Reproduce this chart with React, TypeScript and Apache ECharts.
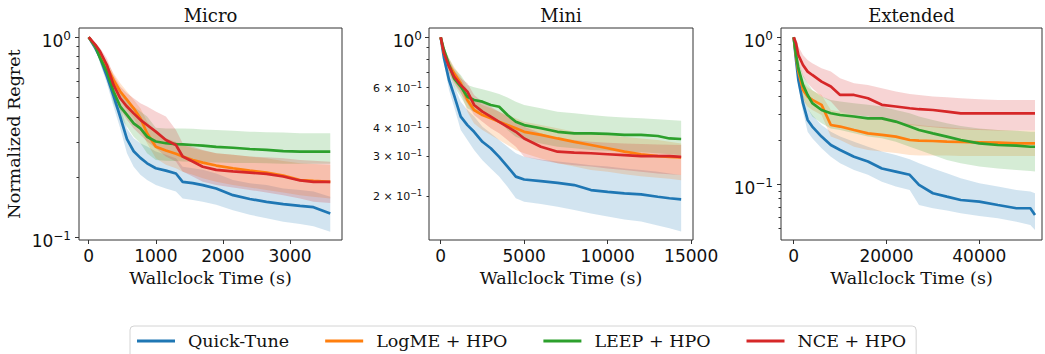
import React, { useEffect, useRef } from 'react';
import * as echarts from 'echarts';

// ---------- data ----------
const methods = ['Quick-Tune', 'LogME + HPO', 'LEEP + HPO', 'NCE + HPO'];
const panelTitles = ['Micro', 'Mini', 'Extended'];
const xAxisName = 'Wallclock Time (s)';
const yAxisName = 'Normalized Regret';

const microXTicks = [0, 1000, 2000, 3000];
const miniXTicks = [0, 5000, 10000, 15000];
const extXTicks = [0, 20000, 40000];

const microYMajor = [1, 0.1];
const microYLabels = [1, 0.1];
const microYMinor = [0.2, 0.3, 0.4, 0.5, 0.6, 0.7, 0.8, 0.9];
const miniYMajor = [1];
const miniYLabels = [1, 0.6, 0.4, 0.3, 0.2];
const miniYMinor = [0.2, 0.3, 0.4, 0.5, 0.6, 0.7, 0.8, 0.9];
const extYMajor = [1, 0.1];
const extYLabels = [1, 0.1];
const extYMinor = [0.05, 0.06, 0.07, 0.08, 0.09, 0.2, 0.3, 0.4, 0.5, 0.6, 0.7, 0.8, 0.9];

// Micro
const microTime = [0, 100, 170, 270, 370, 470, 570, 670, 770, 870, 1000, 1150, 1300, 1400, 1550, 1700, 1900, 2150, 2400, 2650, 2900, 3150, 3350, 3600];
const microQuickTune = [1.0, 0.88, 0.79, 0.64, 0.51, 0.40, 0.31, 0.27, 0.25, 0.235, 0.222, 0.216, 0.209, 0.19, 0.187, 0.183, 0.176, 0.163, 0.156, 0.151, 0.147, 0.144, 0.142, 0.132];
const microQuickTuneHi = [1.0, 0.898, 0.816, 0.674, 0.556, 0.451, 0.351, 0.313, 0.296, 0.285, 0.269, 0.259, 0.249, 0.226, 0.222, 0.218, 0.209, 0.194, 0.187, 0.183, 0.176, 0.173, 0.170, 0.160];
const microQuickTuneLo = [1.0, 0.865, 0.742, 0.589, 0.451, 0.351, 0.264, 0.226, 0.206, 0.194, 0.183, 0.176, 0.170, 0.157, 0.154, 0.151, 0.146, 0.137, 0.130, 0.125, 0.120, 0.117, 0.114, 0.107];
const microLogME = [1.0, 0.898, 0.816, 0.714, 0.612, 0.536, 0.487, 0.442, 0.394, 0.332, 0.284, 0.272, 0.262, 0.254, 0.244, 0.237, 0.229, 0.222, 0.216, 0.211, 0.204, 0.194, 0.192, 0.190];
const microLogMEHi = [1.0, 0.923, 0.848, 0.756, 0.661, 0.589, 0.536, 0.487, 0.442, 0.380, 0.332, 0.313, 0.301, 0.290, 0.279, 0.272, 0.264, 0.259, 0.254, 0.249, 0.241, 0.235, 0.233, 0.231];
const microLogMELo = [1.0, 0.871, 0.777, 0.674, 0.567, 0.487, 0.434, 0.394, 0.345, 0.296, 0.249, 0.231, 0.222, 0.213, 0.206, 0.198, 0.190, 0.183, 0.178, 0.173, 0.168, 0.163, 0.160, 0.157];
const microLEEP = [1.0, 0.898, 0.786, 0.674, 0.536, 0.451, 0.410, 0.372, 0.351, 0.319, 0.302, 0.296, 0.293, 0.292, 0.290, 0.288, 0.284, 0.281, 0.277, 0.274, 0.270, 0.269, 0.269, 0.269];
const microLEEPHi = [1.0, 0.923, 0.832, 0.727, 0.600, 0.536, 0.487, 0.451, 0.426, 0.402, 0.354, 0.351, 0.351, 0.351, 0.349, 0.346, 0.345, 0.342, 0.338, 0.336, 0.335, 0.332, 0.332, 0.332];
const microLEEPLo = [1.0, 0.881, 0.742, 0.612, 0.468, 0.402, 0.358, 0.319, 0.296, 0.264, 0.244, 0.242, 0.241, 0.240, 0.239, 0.238, 0.237, 0.236, 0.236, 0.235, 0.234, 0.234, 0.234, 0.234];
const microNCE = [1.0, 0.916, 0.848, 0.727, 0.578, 0.496, 0.451, 0.417, 0.387, 0.365, 0.338, 0.307, 0.290, 0.254, 0.240, 0.226, 0.218, 0.214, 0.211, 0.208, 0.202, 0.193, 0.190, 0.190];
const microNCEHi = [1.0, 0.933, 0.881, 0.786, 0.649, 0.567, 0.525, 0.496, 0.468, 0.451, 0.426, 0.402, 0.345, 0.296, 0.284, 0.274, 0.264, 0.259, 0.254, 0.252, 0.249, 0.244, 0.242, 0.239];
const microNCELo = [1.0, 0.891, 0.801, 0.661, 0.506, 0.434, 0.387, 0.351, 0.325, 0.302, 0.279, 0.254, 0.240, 0.214, 0.202, 0.190, 0.183, 0.178, 0.173, 0.168, 0.163, 0.157, 0.151, 0.149];

// Mini
const miniTime = [0, 200, 500, 800, 1200, 1600, 2000, 2500, 3000, 3500, 4000, 4500, 5000, 6000, 7000, 8000, 9000, 10000, 11000, 12000, 13000, 13700, 14400];
const miniQuickTune = [1.0, 0.808, 0.648, 0.556, 0.447, 0.410, 0.383, 0.346, 0.324, 0.297, 0.269, 0.243, 0.236, 0.232, 0.228, 0.223, 0.212, 0.208, 0.205, 0.203, 0.198, 0.195, 0.193];
const miniQuickTuneHi = [1.0, 0.850, 0.705, 0.616, 0.520, 0.478, 0.447, 0.403, 0.377, 0.352, 0.329, 0.308, 0.297, 0.289, 0.283, 0.278, 0.273, 0.269, 0.264, 0.260, 0.255, 0.251, 0.247];
const miniQuickTuneLo = [1.0, 0.768, 0.586, 0.494, 0.390, 0.352, 0.318, 0.287, 0.264, 0.243, 0.219, 0.195, 0.188, 0.184, 0.179, 0.173, 0.167, 0.162, 0.157, 0.154, 0.148, 0.144, 0.139];
const miniLogME = [1.0, 0.850, 0.755, 0.694, 0.627, 0.529, 0.478, 0.454, 0.439, 0.424, 0.410, 0.397, 0.383, 0.371, 0.358, 0.346, 0.335, 0.324, 0.313, 0.305, 0.299, 0.297, 0.295];
const miniLogMEHi = [1.0, 0.894, 0.808, 0.742, 0.671, 0.586, 0.529, 0.503, 0.486, 0.470, 0.454, 0.439, 0.424, 0.410, 0.397, 0.383, 0.377, 0.371, 0.364, 0.358, 0.352, 0.346, 0.340];
const miniLogMELo = [1.0, 0.808, 0.705, 0.637, 0.576, 0.470, 0.417, 0.390, 0.371, 0.352, 0.335, 0.318, 0.308, 0.292, 0.278, 0.269, 0.260, 0.255, 0.249, 0.244, 0.240, 0.238, 0.234];
const miniLEEP = [1.0, 0.879, 0.755, 0.659, 0.606, 0.547, 0.529, 0.520, 0.503, 0.494, 0.454, 0.424, 0.410, 0.397, 0.383, 0.377, 0.377, 0.375, 0.371, 0.371, 0.367, 0.358, 0.356];
const miniLEEPHi = [1.0, 0.909, 0.808, 0.730, 0.682, 0.616, 0.602, 0.590, 0.576, 0.562, 0.543, 0.520, 0.503, 0.486, 0.470, 0.462, 0.454, 0.447, 0.443, 0.439, 0.435, 0.432, 0.429];
const miniLEEPLo = [1.0, 0.850, 0.705, 0.606, 0.547, 0.486, 0.470, 0.462, 0.447, 0.432, 0.390, 0.364, 0.352, 0.340, 0.329, 0.324, 0.318, 0.316, 0.313, 0.311, 0.308, 0.305, 0.302];
const miniNCE = [1.0, 0.850, 0.742, 0.671, 0.616, 0.576, 0.503, 0.470, 0.447, 0.424, 0.403, 0.383, 0.358, 0.329, 0.313, 0.310, 0.308, 0.305, 0.302, 0.299, 0.299, 0.299, 0.297];
const miniNCEHi = [1.0, 0.894, 0.794, 0.718, 0.659, 0.627, 0.556, 0.520, 0.494, 0.470, 0.447, 0.424, 0.403, 0.377, 0.358, 0.352, 0.346, 0.343, 0.340, 0.338, 0.337, 0.336, 0.335];
const miniNCELo = [1.0, 0.808, 0.694, 0.627, 0.566, 0.511, 0.454, 0.424, 0.397, 0.377, 0.352, 0.329, 0.297, 0.287, 0.278, 0.273, 0.269, 0.264, 0.260, 0.255, 0.251, 0.249, 0.247];

// Extended
const extTime = [0, 500, 1000, 2000, 3000, 4000, 6000, 8000, 10000, 13000, 16000, 19000, 22000, 25000, 27000, 30000, 33000, 36000, 40000, 44000, 48000, 51000, 52000];
const extQuickTune = [1.0, 0.701, 0.513, 0.356, 0.274, 0.247, 0.211, 0.185, 0.171, 0.154, 0.143, 0.128, 0.122, 0.116, 0.099, 0.0869, 0.0824, 0.0782, 0.0762, 0.0723, 0.0687, 0.0687, 0.0619];
const extQuickTuneHi = [1.0, 0.758, 0.569, 0.405, 0.329, 0.296, 0.253, 0.228, 0.211, 0.195, 0.180, 0.167, 0.158, 0.148, 0.139, 0.128, 0.119, 0.110, 0.1016, 0.0964, 0.0915, 0.0892, 0.0869];
const extQuickTuneLo = [1.0, 0.648, 0.462, 0.312, 0.228, 0.206, 0.176, 0.154, 0.139, 0.125, 0.116, 0.104, 0.0964, 0.0915, 0.0723, 0.0687, 0.0662, 0.0635, 0.0609, 0.0587, 0.0557, 0.0529, 0.0489];
const extLogME = [1.0, 0.739, 0.584, 0.438, 0.395, 0.375, 0.347, 0.253, 0.247, 0.234, 0.222, 0.217, 0.211, 0.200, 0.198, 0.197, 0.195, 0.194, 0.193, 0.192, 0.190, 0.190, 0.190];
const extLogMEHi = [1.0, 0.799, 0.648, 0.499, 0.457, 0.434, 0.405, 0.320, 0.312, 0.296, 0.281, 0.274, 0.267, 0.257, 0.253, 0.247, 0.244, 0.240, 0.237, 0.234, 0.232, 0.232, 0.232];
const extLogMELo = [1.0, 0.683, 0.526, 0.375, 0.338, 0.320, 0.296, 0.211, 0.200, 0.180, 0.171, 0.167, 0.163, 0.158, 0.157, 0.157, 0.157, 0.156, 0.156, 0.156, 0.156, 0.156, 0.156];
const extLEEP = [1.0, 0.758, 0.616, 0.474, 0.405, 0.356, 0.320, 0.304, 0.296, 0.289, 0.281, 0.281, 0.267, 0.247, 0.234, 0.222, 0.211, 0.200, 0.190, 0.185, 0.183, 0.180, 0.180];
const extLEEPHi = [1.0, 0.820, 0.701, 0.554, 0.486, 0.438, 0.395, 0.375, 0.365, 0.356, 0.347, 0.338, 0.320, 0.304, 0.289, 0.274, 0.260, 0.249, 0.240, 0.234, 0.231, 0.228, 0.228];
const extLEEPLo = [1.0, 0.683, 0.526, 0.395, 0.329, 0.289, 0.260, 0.240, 0.234, 0.222, 0.211, 0.206, 0.195, 0.180, 0.171, 0.158, 0.146, 0.139, 0.132, 0.128, 0.125, 0.123, 0.122];
const extNCE = [1.0, 0.910, 0.758, 0.648, 0.584, 0.554, 0.499, 0.462, 0.405, 0.405, 0.385, 0.347, 0.338, 0.329, 0.324, 0.320, 0.312, 0.304, 0.304, 0.304, 0.304, 0.304, 0.304];
const extNCEHi = [1.0, 0.969, 0.864, 0.758, 0.701, 0.665, 0.616, 0.584, 0.526, 0.486, 0.474, 0.450, 0.427, 0.412, 0.405, 0.395, 0.391, 0.385, 0.379, 0.375, 0.375, 0.375, 0.375];
const extNCELo = [1.0, 0.842, 0.665, 0.540, 0.486, 0.450, 0.395, 0.365, 0.312, 0.296, 0.289, 0.274, 0.260, 0.253, 0.249, 0.244, 0.240, 0.237, 0.234, 0.232, 0.232, 0.232, 0.232];

// ---------- styling / layout ----------
const COLORS = ['#1f77b4', '#ff7f0e', '#2ca02c', '#d62728'];
const SERIF = 'DejaVu Serif';
const SANS = 'DejaVu Sans';
const TEXT = '#111';
const SPINE = '#333333';

const gridBoxes = [
  { left: 79, top: 28, width: 263, height: 212 },
  { left: 429, top: 28, width: 264, height: 212 },
  { left: 781, top: 28, width: 261, height: 212 },
];
const xRanges = [[-145, 3775], [-700, 15110], [-2740, 53510]];
const yRanges = [[-1.0115, 0.046], [-0.894, 0.041], [-1.379, 0.063]];

const panels = [
  {
    title: panelTitles[0], time: microTime, xTicks: microXTicks,
    yMajor: microYMajor, yLabels: microYLabels, yMinor: microYMinor,
    mean: [microQuickTune, microLogME, microLEEP, microNCE],
    hi: [microQuickTuneHi, microLogMEHi, microLEEPHi, microNCEHi],
    lo: [microQuickTuneLo, microLogMELo, microLEEPLo, microNCELo],
  },
  {
    title: panelTitles[1], time: miniTime, xTicks: miniXTicks,
    yMajor: miniYMajor, yLabels: miniYLabels, yMinor: miniYMinor,
    mean: [miniQuickTune, miniLogME, miniLEEP, miniNCE],
    hi: [miniQuickTuneHi, miniLogMEHi, miniLEEPHi, miniNCEHi],
    lo: [miniQuickTuneLo, miniLogMELo, miniLEEPLo, miniNCELo],
  },
  {
    title: panelTitles[2], time: extTime, xTicks: extXTicks,
    yMajor: extYMajor, yLabels: extYLabels, yMinor: extYMinor,
    mean: [extQuickTune, extLogME, extLEEP, extNCE],
    hi: [extQuickTuneHi, extLogMEHi, extLEEPHi, extNCEHi],
    lo: [extQuickTuneLo, extLogMELo, extLEEPLo, extNCELo],
  },
];

const lg = (v: number) => Math.log10(v);

function fmtLog(val: number): string {
  const e = Math.round(val);
  if (Math.abs(val - e) < 1e-6) {
    const s = e < 0 ? '\u2212' + -e : String(e);
    return `{b|10}{s|${s}}`;
  }
  const ex = Math.floor(val);
  const m = Math.round(Math.pow(10, val - ex));
  const s = ex < 0 ? '\u2212' + -ex : String(ex);
  return `{mb|${m} \u00d7 10}{ms|${s}}`;
}

const richLabels = {
  b: { fontFamily: SANS, fontSize: 17, color: TEXT, lineHeight: 18, padding: [7, 0, 0, 0] },
  s: { fontFamily: SANS, fontSize: 12, color: TEXT, lineHeight: 12, padding: [0, 0, 3, 0] },
  mb: { fontFamily: SANS, fontSize: 11, color: TEXT, lineHeight: 12, padding: [1, 0, 0, 0] },
  ms: { fontFamily: SANS, fontSize: 8, color: TEXT, lineHeight: 8, padding: [0, 0, 5, 0] },
};

export default function App() {
  const ref = useRef<HTMLDivElement>(null);

  useEffect(() => {
    if (!ref.current) return;
    const chart = echarts.init(ref.current, undefined, { renderer: 'svg' });

    const grid = gridBoxes.map((g) => ({
      ...g, show: true, borderColor: SPINE, borderWidth: 1, backgroundColor: 'transparent',
    }));

    const xAxis = panels.map((p, i) => ({
      type: 'value', gridIndex: i, min: xRanges[i][0], max: xRanges[i][1],
      name: xAxisName, nameLocation: 'middle', nameGap: 27,
      nameTextStyle: { fontFamily: SERIF, fontSize: 17.5, color: TEXT },
      axisLine: { show: false, onZero: false },
      splitLine: { show: false },
      axisTick: { show: true, customValues: p.xTicks, length: 4, lineStyle: { color: SPINE, width: 1 } },
      axisLabel: {
        customValues: p.xTicks, margin: 7, fontFamily: SANS, fontSize: 17, color: TEXT,
        formatter: (v: number) => String(v),
        showMinLabel: true, showMaxLabel: true, hideOverlap: false,
      },
    }));

    const yAxis: any[] = [];
    panels.forEach((p, i) => {
      yAxis.push({
        type: 'value', gridIndex: i, min: yRanges[i][0], max: yRanges[i][1], position: 'left',
        name: i === 0 ? yAxisName : '', nameLocation: 'middle', nameGap: 56,
        nameTextStyle: { fontFamily: SERIF, fontSize: 17.5, color: TEXT },
        axisLine: { show: false, onZero: false },
        splitLine: { show: false },
        axisTick: { show: true, customValues: p.yMajor.map(lg), length: 4, lineStyle: { color: SPINE, width: 1 } },
        axisLabel: {
          customValues: p.yLabels.map(lg), margin: i === 1 ? 7 : 8,
          formatter: (v: number) => fmtLog(v), rich: richLabels,
          hideOverlap: false,
        },
      });
      yAxis.push({
        type: 'value', gridIndex: i, min: yRanges[i][0], max: yRanges[i][1], position: 'left',
        axisLine: { show: false, onZero: false },
        splitLine: { show: false },
        axisLabel: { show: false },
        axisTick: { show: true, customValues: p.yMinor.map(lg), length: 2.5, lineStyle: { color: SPINE, width: 1 } },
      });
    });

    const series: any[] = [];
    panels.forEach((p, i) => {
      methods.forEach((name, m) => {
        const fill = echarts.color.modifyAlpha(COLORS[m], 0.2);
        series.push({
          type: 'custom', name: `${name} band`, xAxisIndex: i, yAxisIndex: 2 * i,
          silent: true, z: 1, clip: true,
          encode: { x: 0, y: [1, 2] },
          data: p.time.map((t, k) => [t, lg(p.lo[m][k]), lg(p.hi[m][k])]),
          renderItem: (params: any, api: any) => {
            if (params.dataIndex !== 0) return null;
            const upper = p.time.map((t, k) => api.coord([t, lg(p.hi[m][k])]));
            const lower = p.time.map((t, k) => api.coord([t, lg(p.lo[m][k])])).reverse();
            return {
              type: 'polygon',
              shape: { points: upper.concat(lower) },
              style: { fill, stroke: 'none' },
            };
          },
        });
      });
      methods.forEach((name, m) => {
        series.push({
          type: 'line', name, xAxisIndex: i, yAxisIndex: 2 * i,
          data: p.time.map((t, k) => [t, lg(p.mean[m][k])]),
          symbol: 'none', color: COLORS[m],
          lineStyle: { color: COLORS[m], width: 2.7 }, itemStyle: { color: COLORS[m] }, z: 3,
        });
      });
    });

    const graphic = panels.map((p, i) => ({
      type: 'text',
      x: gridBoxes[i].left + gridBoxes[i].width / 2,
      y: 15,
      style: {
        text: p.title, textAlign: 'center', textVerticalAlign: 'middle',
        fontFamily: SERIF, fontSize: 18, fill: TEXT,
      },
    }));

    chart.setOption({
      animation: false,
      backgroundColor: '#ffffff',
      grid, xAxis, yAxis, series, graphic,
      legend: {
        data: methods.map((n) => ({ name: n, icon: 'rect' })),
        left: 130, top: 326,
        itemWidth: 38, itemHeight: 3, itemGap: 36,
        padding: [6, 10, 20, 7],
        borderColor: '#d4d4d4', borderWidth: 1, borderRadius: 4,
        backgroundColor: '#ffffff',
        selectedMode: false,
        textStyle: { fontFamily: SERIF, fontSize: 17.5, color: TEXT, padding: [0, 0, 0, 8] },
      },
    });

    return () => chart.dispose();
  }, []);

  return (
    <div
      ref={ref}
      style={{ position: 'absolute', left: 0, top: 0, width: 1045, height: 354, background: '#fff' }}
    />
  );
}
